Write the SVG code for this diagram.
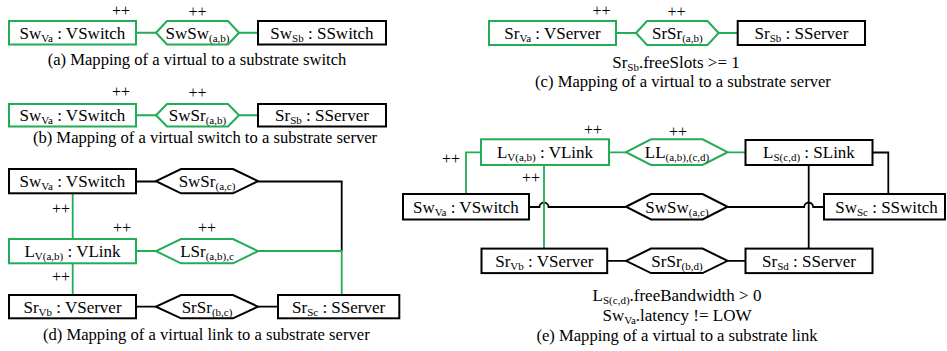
<svg xmlns="http://www.w3.org/2000/svg" width="947" height="351" viewBox="0 0 947 351">
  <style>
    text { font-family: "Liberation Serif", "Times New Roman", serif; fill: #000; }
    .lbl { font-size: 17px; text-anchor: middle; }
    .sub { font-size: 11px; }
    .pp { font-size: 16px; text-anchor: middle; }
    .cap { font-size: 16.6px; text-anchor: middle; }
    .box { fill: #fff; stroke-width: 2; }
    .g { stroke: #22ac55; }
    .k { stroke: #000; }
    .ln { fill: none; stroke-width: 1.8; }
  </style>
  <rect width="947" height="351" fill="#fff"/>

  <!-- connectors -->
  <g id="connectors">
    <!-- (a) -->
    <path class="ln g" d="M136,32.75 H156 M239,32.75 H258"/>
    <!-- (b) -->
    <path class="ln g" d="M136,115.25 H156 M239,115.25 H258"/>
    <!-- (c) -->
    <path class="ln g" d="M616,33 H636 M718.6,33 H737.7"/>
    <!-- (d) -->
    <path class="ln k" d="M136,181.5 H156 M258,181.5 H341.7 V251"/>
    <path class="ln g" d="M72.7,193.3 V239 M72.7,263.3 V295 M136,251 H156 M258,251 H341.7 V295"/>
    <path class="ln k" d="M136,306.7 H156 M258,306.7 H278"/>
    <!-- (e) -->
    <path class="ln k" d="M529,207 H539.5 A4.5,4.5 0 0 1 548.5,207 H626"/>
    <path class="ln k" d="M727.6,207 H804.2 A4.5,4.5 0 0 1 813.2,207 H824"/>
    <path class="ln k" d="M872.5,152.5 H888.3 V194 M808.7,165 V248.6"/>
    <path class="ln k" d="M607.2,260.8 H626 M727.6,260.8 H745.5"/>
    <path class="ln g" d="M481,152.3 H466 V194 M544,165 V248.6 M609,152.3 H626 M727.6,152.3 H745.5"/>
  </g>

  <!-- (a) Mapping of a virtual to a substrate switch -->
  <g id="a-swva">
    <rect class="box g" x="9" y="21" width="127" height="23.5"/>
    <text class="lbl" x="72.5" y="38.5">Sw<tspan class="sub" dy="3">Va</tspan><tspan dy="-3"> : VSwitch</tspan></text>
  </g>
  <g id="a-swsw">
    <polygon class="box g" points="156,32.75 167,21 228,21 239,32.75 228,44.5 167,44.5"/>
    <text class="lbl" x="197.5" y="38.5">SwSw<tspan class="sub" dy="3">(a,b)</tspan></text>
  </g>
  <g id="a-swsb">
    <rect class="box k" x="258" y="21" width="128" height="23.5"/>
    <text class="lbl" x="322" y="38.5">Sw<tspan class="sub" dy="3">Sb</tspan><tspan dy="-3"> : SSwitch</tspan></text>
  </g>
  <text class="pp" x="121" y="15.5">++</text>
  <text class="pp" x="197.5" y="16.5">++</text>
  <text class="cap" x="197" y="65">(a) Mapping of a virtual to a substrate switch</text>

  <!-- (b) Mapping of a virtual switch to a substrate server -->
  <g id="b-swva">
    <rect class="box g" x="9" y="104" width="127" height="22.5"/>
    <text class="lbl" x="72.5" y="121">Sw<tspan class="sub" dy="3">Va</tspan><tspan dy="-3"> : VSwitch</tspan></text>
  </g>
  <g id="b-swsr">
    <polygon class="box g" points="156,115.25 167,104 228,104 239,115.25 228,126.5 167,126.5"/>
    <text class="lbl" x="197.5" y="121">SwSr<tspan class="sub" dy="3">(a,b)</tspan></text>
  </g>
  <g id="b-srsb">
    <rect class="box k" x="258" y="104" width="128" height="22.5"/>
    <text class="lbl" x="322" y="121">Sr<tspan class="sub" dy="3">Sb</tspan><tspan dy="-3"> : SServer</tspan></text>
  </g>
  <text class="pp" x="121" y="97">++</text>
  <text class="pp" x="197.5" y="97.5">++</text>
  <text class="cap" x="205" y="143.3">(b) Mapping of a virtual switch to a substrate server</text>

  <!-- (c) Mapping of a virtual to a substrate server -->
  <g id="c-srva">
    <rect class="box g" x="489" y="21" width="127" height="24"/>
    <text class="lbl" x="552.5" y="38.8">Sr<tspan class="sub" dy="3">Va</tspan><tspan dy="-3"> : VServer</tspan></text>
  </g>
  <g id="c-srsr">
    <polygon class="box g" points="636,33 647,21 707.6,21 718.6,33 707.6,45 647,45"/>
    <text class="lbl" x="677.3" y="38.8">SrSr<tspan class="sub" dy="3">(a,b)</tspan></text>
  </g>
  <g id="c-srsb">
    <rect class="box k" x="737.7" y="21" width="127.3" height="24"/>
    <text class="lbl" x="801.4" y="38.8">Sr<tspan class="sub" dy="3">Sb</tspan><tspan dy="-3"> : SServer</tspan></text>
  </g>
  <text class="pp" x="601.5" y="15.7">++</text>
  <text class="pp" x="676.5" y="16.5">++</text>
  <text class="lbl" x="676" y="68">Sr<tspan class="sub" dy="3">Sb</tspan><tspan dy="-3">.freeSlots &gt;= 1</tspan></text>
  <text class="cap" x="683" y="87.2">(c) Mapping of a virtual to a substrate server</text>

  <!-- (d) Mapping of a virtual link to a substrate server -->
  <g id="d-swva">
    <rect class="box k" x="9" y="169" width="127" height="24.3"/>
    <text class="lbl" x="72.5" y="187.3">Sw<tspan class="sub" dy="3">Va</tspan><tspan dy="-3"> : VSwitch</tspan></text>
  </g>
  <g id="d-swsr">
    <polygon class="box k" points="156,181.15 181,169 233,169 258,181.15 233,193.3 181,193.3"/>
    <text class="lbl" x="207" y="187.3">SwSr<tspan class="sub" dy="3">(a,c)</tspan></text>
  </g>
  <g id="d-lv">
    <rect class="box g" x="9" y="239" width="127" height="24.3"/>
    <text class="lbl" x="72.5" y="257.3">L<tspan class="sub" dy="3">V(a,b)</tspan><tspan dy="-3"> : VLink</tspan></text>
  </g>
  <g id="d-lsr">
    <polygon class="box g" points="156,251.15 181,239 233,239 258,251.15 233,263.3 181,263.3"/>
    <text class="lbl" x="207" y="257.3">LSr<tspan class="sub" dy="3">(a,b),c</tspan></text>
  </g>
  <g id="d-srvb">
    <rect class="box k" x="9" y="295" width="127" height="23.3"/>
    <text class="lbl" x="72.5" y="312.6">Sr<tspan class="sub" dy="3">Vb</tspan><tspan dy="-3"> : VServer</tspan></text>
  </g>
  <g id="d-srsr">
    <polygon class="box k" points="156,306.65 181,295 233,295 258,306.65 233,318.3 181,318.3"/>
    <text class="lbl" x="207" y="312.6">SrSr<tspan class="sub" dy="3">(b,c)</tspan></text>
  </g>
  <g id="d-srsc">
    <rect class="box k" x="278" y="295" width="121.3" height="23.3"/>
    <text class="lbl" x="338.6" y="312.6">Sr<tspan class="sub" dy="3">Sc</tspan><tspan dy="-3"> : SServer</tspan></text>
  </g>
  <text class="pp" x="61" y="214">++</text>
  <text class="pp" x="122" y="232.5">++</text>
  <text class="pp" x="207" y="232.5">++</text>
  <text class="pp" x="61" y="281.5">++</text>
  <text class="cap" x="206.3" y="340">(d) Mapping of a virtual link to a substrate server</text>

  <!-- (e) Mapping of a virtual to a substrate link -->
  <g id="e-lv">
    <rect class="box g" x="481" y="139.3" width="128" height="25.7"/>
    <text class="lbl" x="545" y="158">L<tspan class="sub" dy="3">V(a,b)</tspan><tspan dy="-3"> : VLink</tspan></text>
  </g>
  <g id="e-ll">
    <polygon class="box g" points="626,152.15 651,139.3 702.6,139.3 727.6,152.15 702.6,165 651,165"/>
    <text class="lbl" x="677" y="158">LL<tspan class="sub" dy="3">(a,b),(c,d)</tspan></text>
  </g>
  <g id="e-ls">
    <rect class="box k" x="745.5" y="140" width="127" height="25"/>
    <text class="lbl" x="809" y="158">L<tspan class="sub" dy="3">S(c,d)</tspan><tspan dy="-3"> : SLink</tspan></text>
  </g>
  <g id="e-swva">
    <rect class="box k" x="403" y="194" width="126" height="25.5"/>
    <text class="lbl" x="466" y="212.7">Sw<tspan class="sub" dy="3">Va</tspan><tspan dy="-3"> : VSwitch</tspan></text>
  </g>
  <g id="e-swsw">
    <polygon class="box k" points="626,206.75 651,194 702.6,194 727.6,206.75 702.6,219.5 651,219.5"/>
    <text class="lbl" x="677" y="212.7">SwSw<tspan class="sub" dy="3">(a,c)</tspan></text>
  </g>
  <g id="e-swsc">
    <rect class="box k" x="824" y="194" width="121" height="25.5"/>
    <text class="lbl" x="886.5" y="212.7">Sw<tspan class="sub" dy="3">Sc</tspan><tspan dy="-3"> : SSwitch</tspan></text>
  </g>
  <g id="e-srvb">
    <rect class="box k" x="481.5" y="248.6" width="125.7" height="24.5"/>
    <text class="lbl" x="544.3" y="266.8">Sr<tspan class="sub" dy="3">Vb</tspan><tspan dy="-3"> : VServer</tspan></text>
  </g>
  <g id="e-srsr">
    <polygon class="box k" points="626,260.85 651,248.6 702.6,248.6 727.6,260.85 702.6,273.1 651,273.1"/>
    <text class="lbl" x="677" y="266.8">SrSr<tspan class="sub" dy="3">(b,d)</tspan></text>
  </g>
  <g id="e-srsd">
    <rect class="box k" x="745.5" y="248.6" width="127" height="24.5"/>
    <text class="lbl" x="809" y="266.8">Sr<tspan class="sub" dy="3">Sd</tspan><tspan dy="-3"> : SServer</tspan></text>
  </g>
  <text class="pp" x="593" y="135">++</text>
  <text class="pp" x="451" y="164">++</text>
  <text class="pp" x="531" y="183.3">++</text>
  <text class="pp" x="678" y="137">++</text>
  <text class="lbl" x="677" y="300.7">L<tspan class="sub" dy="3">S(c,d)</tspan><tspan dy="-3">.freeBandwidth &gt; 0</tspan></text>
  <text class="lbl" x="677" y="320.8">Sw<tspan class="sub" dy="3">Va</tspan><tspan dy="-3">.latency != LOW</tspan></text>
  <text class="cap" x="677" y="341">(e) Mapping of a virtual to a substrate link</text>
</svg>
